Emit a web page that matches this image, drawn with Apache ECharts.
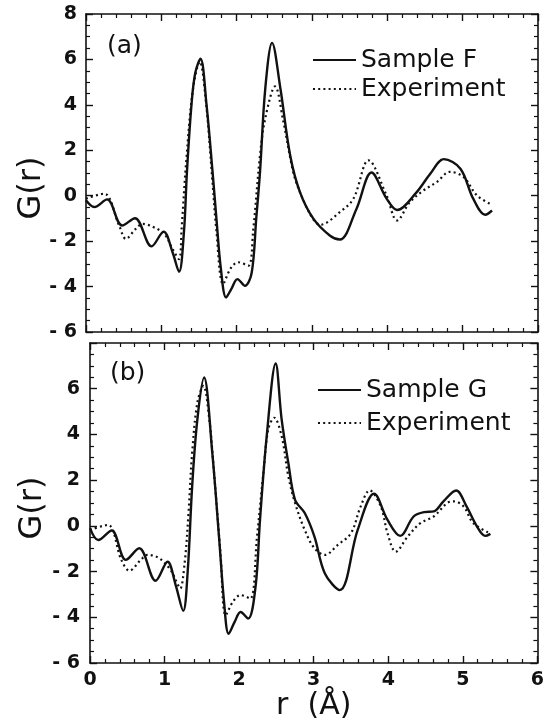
<!DOCTYPE html>
<html>
<head>
<meta charset="utf-8">
<script src="https://cdn.jsdelivr.net/npm/echarts@6/dist/echarts.min.js"></script>
<style>
  html, body { margin: 0; padding: 0; background: #fff; }
  #chart { width: 547px; height: 725px; }
</style>
</head>
<body>
<div id="chart"></div>
<script>
// Pair distribution function G(r): two model samples against experiment
const xTicks = [0, 1, 2, 3, 4, 5, 6];
const yTicks = [-6, -4, -2, 0, 2, 4, 6, 8];

// Panel (a)
const sampleF_r = [0, 0.11, 0.28, 0.48, 0.65, 0.87, 1.03, 1.15, 1.235, 1.30, 1.34, 1.40, 1.45, 1.52, 1.60, 1.68, 1.735, 1.79, 1.86, 1.93, 2.01, 2.11, 2.20, 2.26, 2.31, 2.38, 2.47, 2.58, 2.71, 2.84, 3.02, 3.24, 3.37, 3.59, 3.79, 3.99, 4.13, 4.39, 4.57, 4.75, 4.97, 5.14, 5.30, 5.39];
const sampleF_g = [-0.2, -0.5, -0.16, -1.31, -0.99, -2.23, -1.58, -2.5, -3.35, -1.6, 1.05, 4.0, 5.4, 6.03, 4.0, 1.05, -1.16, -3.2, -4.48, -4.1, -3.67, -3.97, -3.38, -1.0, 1.05, 4.73, 6.73, 4.73, 1.78, 0.16, -1.02, -1.76, -1.93, -0.58, 1.02, -0.13, -0.63, 0.16, 0.97, 1.61, 1.19, -0.13, -0.84, -0.65];

const expA_r = [0, 0.24, 0.44, 0.53, 0.66, 0.75, 0.90, 1.04, 1.15, 1.235, 1.27, 1.33, 1.42, 1.51, 1.59, 1.67, 1.73, 1.82, 1.92, 2.02, 2.155, 2.22, 2.31, 2.38, 2.51, 2.62, 2.75, 2.84, 3.00, 3.11, 3.37, 3.55, 3.75, 3.99, 4.13, 4.30, 4.48, 4.66, 4.83, 5.01, 5.19, 5.39];
const expA_g = [-0.13, 0.09, -1.31, -1.9, -1.46, -1.24, -1.39, -1.68, -2.35, -2.79, -1.4, 1.5, 4.7, 5.9, 4.2, 1.0, -1.5, -3.89, -3.2, -2.93, -3.08, -1.5, 1.78, 3.41, 4.81, 3.26, 1.05, 0.16, -0.95, -1.28, -0.72, -0.13, 1.56, 0.01, -1.09, -0.28, 0.23, 0.61, 1.05, 0.83, 0.01, -0.4];

// Panel (b)
const sampleG_r = [0, 0.11, 0.29, 0.48, 0.66, 0.88, 1.04, 1.15, 1.25, 1.31, 1.37, 1.44, 1.53, 1.64, 1.73, 1.80, 1.86, 1.94, 2.02, 2.12, 2.22, 2.28, 2.37, 2.49, 2.57, 2.66, 2.75, 2.88, 3.01, 3.15, 3.35, 3.59, 3.81, 3.99, 4.16, 4.34, 4.48, 4.61, 4.74, 4.91, 5.05, 5.19, 5.30, 5.37];
const sampleG_g = [-0.1, -0.62, -0.2, -1.49, -0.98, -2.4, -1.57, -2.6, -3.72, -2.0, 1.73, 4.66, 6.49, 3.19, -0.47, -3.4, -4.72, -4.2, -3.77, -4.06, -2.67, 0.26, 3.93, 7.1, 4.66, 2.75, 1.14, 0.56, -0.47, -2.08, -2.81, -0.18, 1.41, 0.26, -0.44, 0.41, 0.6, 0.63, 1.07, 1.55, 0.85, -0.03, -0.44, -0.35];

const expB_r = [0, 0.24, 0.42, 0.53, 0.68, 0.77, 0.93, 1.08, 1.17, 1.21, 1.27, 1.32, 1.37, 1.44, 1.52, 1.60, 1.66, 1.75, 1.82, 1.92, 2.02, 2.15, 2.24, 2.33, 2.39, 2.47, 2.57, 2.66, 2.75, 2.88, 3.01, 3.15, 3.32, 3.50, 3.63, 3.75, 3.90, 3.99, 4.10, 4.26, 4.43, 4.61, 4.79, 4.88, 5.01, 5.14, 5.36];
const expB_g = [-0.18, 0.04, -1.49, -1.96, -1.49, -1.27, -1.42, -1.93, -2.52, -2.74, -1.6, 0.5, 3.19, 5.39, 6.12, 4.66, 2.46, -1.2, -3.91, -3.3, -3.03, -3.18, -0.47, 2.46, 4.22, 4.73, 3.93, 2.17, 1.0, -0.18, -0.98, -1.27, -0.84, -0.32, 0.85, 1.55, 0.85, -0.32, -1.13, -0.47, 0.12, 0.41, 1.0, 1.07, 0.85, 0.12, -0.32];

const pairs = (xs, ys) => xs.map((x, i) => [x, ys[i]]);

const FONT = 'DejaVu Sans';
const INK = '#111';

const tickFmt = v => (v < 0 ? '- ' + Math.abs(v) : String(v));

function xAxisCfg(grid, position, labels, extra) {
  return Object.assign({
    type: 'value', gridIndex: grid, position: position,
    min: xTicks[0], max: xTicks[xTicks.length - 1], interval: 1,
    axisLine: { show: true, onZero: false, lineStyle: { color: INK, width: 1.6 } },
    axisTick: { show: true, inside: true, length: 7, lineStyle: { color: INK, width: 1.4 } },
    minorTick: { show: true, splitNumber: 5, length: 4, lineStyle: { color: INK, width: 1.2 } },
    axisLabel: { show: labels, margin: 8, color: INK, fontFamily: FONT, fontWeight: 'bold', fontSize: 19 },
    splitLine: { show: false }
  }, extra || {});
}

function yAxisCfg(grid, position, labels, extra) {
  return Object.assign({
    type: 'value', gridIndex: grid, position: position,
    min: yTicks[0], max: yTicks[yTicks.length - 1], interval: 2,
    axisLine: { show: true, onZero: false, lineStyle: { color: INK, width: 1.6 } },
    axisTick: { show: true, inside: true, length: 7, lineStyle: { color: INK, width: 1.4 } },
    minorTick: { show: true, splitNumber: 4, length: 4, lineStyle: { color: INK, width: 1.2 } },
    axisLabel: { show: labels, margin: 9, color: INK, fontFamily: FONT, fontWeight: 'bold', fontSize: 19, formatter: tickFmt },
    splitLine: { show: false }
  }, extra || {});
}

function lineSeries(name, xi, yi, data, dotted) {
  return {
    name: name, type: 'line', xAxisIndex: xi, yAxisIndex: yi,
    data: data, smooth: 0.35, showSymbol: false, symbol: 'none',
    lineStyle: dotted
      ? { color: INK, width: 2.2, type: [2, 3.2] }
      : { color: INK, width: 2.4 },
    itemStyle: { color: INK },
    z: dotted ? 2 : 3
  };
}

const legendText = { color: INK, fontFamily: FONT, fontSize: 25, lineHeight: 26 };

const chart = echarts.init(document.getElementById('chart'), null, { renderer: 'canvas' });
chart.setOption({
  backgroundColor: '#fff',
  animation: false,
  grid: [
    { left: 86, top: 14, width: 452, height: 318 },
    { left: 90, top: 343, width: 451, height: 320 }
  ],
  xAxis: [
    xAxisCfg(0, 'bottom', false),
    xAxisCfg(0, 'top', false),
    xAxisCfg(1, 'bottom', true, {
      name: 'r  (Å)', nameLocation: 'middle', nameGap: 22,
      nameTextStyle: { color: INK, fontFamily: FONT, fontSize: 30 }
    }),
    xAxisCfg(1, 'top', false)
  ],
  yAxis: [
    yAxisCfg(0, 'left', true),
    yAxisCfg(0, 'right', false),
    yAxisCfg(1, 'left', true, {
      axisLabel: { show: true, margin: 10, color: INK, fontFamily: FONT, fontWeight: 'bold', fontSize: 19, formatter: tickFmt, showMaxLabel: false }
    }),
    yAxisCfg(1, 'right', false)
  ],
  legend: [
    {
      orient: 'vertical', left: 312, top: 47, padding: 0, itemGap: 3, itemWidth: 43, itemHeight: 14,
      itemStyle: { opacity: 0 },
      data: ['Sample F', 'Experiment'], textStyle: legendText, selectedMode: false
    },
    {
      orient: 'vertical', left: 317, top: 377, padding: 0, itemGap: 7, itemWidth: 43, itemHeight: 14,
      itemStyle: { opacity: 0 },
      data: ['Sample G', 'Experiment'], textStyle: legendText, selectedMode: false
    }
  ],
  graphic: [
    { type: 'text', left: 107, top: 34, style: { text: '(a)', font: '25px "DejaVu Sans"', fill: INK } },
    { type: 'text', left: 110, top: 361, style: { text: '(b)', font: '25px "DejaVu Sans"', fill: INK } },
    { type: 'text', x: 32, y: 188, rotation: Math.PI / 2,
      style: { text: 'G(r)', font: '32px "DejaVu Sans"', fill: INK, align: 'center', verticalAlign: 'middle' } },
    { type: 'text', x: 33, y: 508, rotation: Math.PI / 2,
      style: { text: 'G(r)', font: '32px "DejaVu Sans"', fill: INK, align: 'center', verticalAlign: 'middle' } }
  ],
  series: [
    lineSeries('Sample F', 0, 0, pairs(sampleF_r, sampleF_g), false),
    lineSeries('Experiment', 0, 0, pairs(expA_r, expA_g), true),
    lineSeries('Sample G', 2, 2, pairs(sampleG_r, sampleG_g), false),
    lineSeries('Experiment', 2, 2, pairs(expB_r, expB_g), true)
  ]
});
</script>
</body>
</html>
